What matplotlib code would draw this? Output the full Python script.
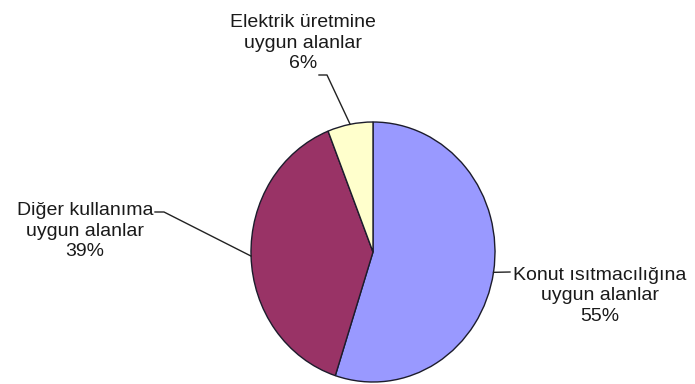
import matplotlib
matplotlib.use('Agg')
import matplotlib.pyplot as plt
import numpy as np

plt.rcParams['font.family'] = ['Liberation Sans', 'DejaVu Sans']

labels = ['Konut ısıtmacılığına\nuygun alanlar',
          'Diğer kullanıma\nuygun alanlar',
          'Elektrik üretmine\nuygun alanlar']
shares = [55, 39, 6]
colors = ['#9999FF', '#993366', '#FFFFCC']

W, H = 695, 384
fig = plt.figure(figsize=(W / 100, H / 100), dpi=100)
ax = fig.add_axes([251 / W, 2 / H, 244 / W, 260 / H])

wedges, _ = ax.pie(shares, colors=colors, startangle=90, counterclock=False,
                   wedgeprops=dict(edgecolor='#1c1c2c', linewidth=1))
ax.set_aspect('auto')
ax.set_xlim(-1, 1)
ax.set_ylim(-1, 1)

# label block centre and leader elbow (pixels from top-left)
label_pos = [(600, 296), (85, 231), (303, 43)]
elbows = [[(510, 272)],
          [(164, 212), (155, 212)],
          [(327, 75), (319, 75)]]

to_data = ax.transData.inverted()
for w, lab, val, (tx, ty), elb in zip(wedges, labels, shares, label_pos, elbows):
    mid = np.deg2rad((w.theta1 + w.theta2) / 2)
    pts = [(np.cos(mid), np.sin(mid))]
    for ex, ey in elb:
        pts.append(tuple(to_data.transform((ex, H - ey))))
    xs, ys = zip(*pts)
    ax.plot(xs, ys, color='#222222', lw=1, clip_on=False)
    fig.text(tx / W, 1 - ty / H, f'{lab}\n{val}%', ha='center', va='center',
             fontsize=14, linespacing=1.25, color='#1a1a1a')

fig.savefig('out.png', dpi=100)
